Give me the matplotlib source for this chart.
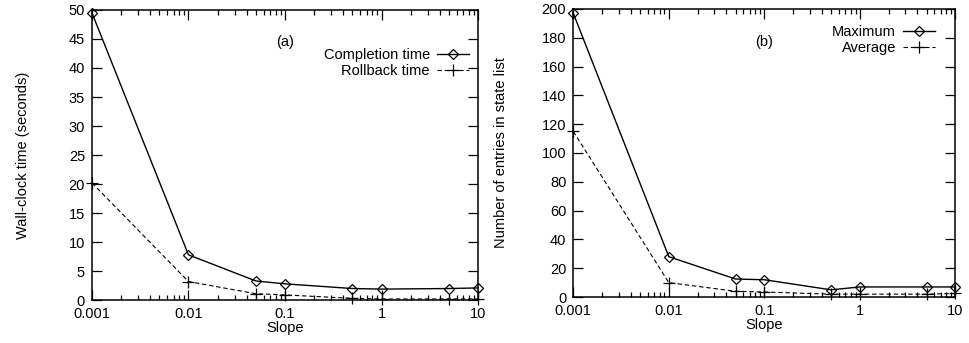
import matplotlib.pyplot as plt
from matplotlib.ticker import LogLocator, NullFormatter, FixedLocator

plt.rcParams['font.family'] = ['Liberation Sans', 'DejaVu Sans']

slope = [0.001, 0.01, 0.05, 0.1, 0.5, 1, 5, 10]
slope_labels = ['0.001', '0.01', '0.1', '1', '10']

completion_time = [49.5, 7.8, 3.3, 2.8, 2.0, 1.9, 2.0, 2.1]
rollback_time = [20.2, 3.2, 1.1, 0.9, 0.3, 0.2, 0.2, 0.2]

max_entries = [197, 28, 12.5, 12, 5, 7, 7, 7]
avg_entries = [115, 10, 4, 3.5, 2, 2, 2, 2.5]

FS = 10.5


def style_axis(ax, yticks):
    ax.set_xscale('log')
    ax.set_xlim(0.001, 10)
    ax.xaxis.set_major_locator(FixedLocator([0.001, 0.01, 0.1, 1, 10]))
    ax.set_xticklabels(slope_labels)
    ax.xaxis.set_minor_locator(LogLocator(base=10, subs=range(2, 10)))
    ax.xaxis.set_minor_formatter(NullFormatter())
    ax.set_yticks(yticks)
    ax.set_ylim(yticks[0], yticks[-1])
    ax.tick_params(which='both', direction='in', top=True, right=True,
                   labelsize=FS, width=0.9, pad=5)
    ax.tick_params(which='major', length=7)
    ax.tick_params(which='minor', length=3.5)
    ax.set_xlabel('Slope', fontsize=FS, labelpad=0)
    for s in ax.spines.values():
        s.set_linewidth(1.1)


fig = plt.figure(figsize=(9.7, 3.43), dpi=100)
ax1 = fig.add_axes([0.0948, 0.125, 0.398, 0.846])
ax2 = fig.add_axes([0.591, 0.134, 0.394, 0.840])

ax1.plot(slope, completion_time, 'k-', marker='D', fillstyle='none',
         markersize=5, markeredgewidth=0.9, linewidth=1.0, label='Completion time',
         clip_on=False)
ax1.plot(slope, rollback_time, 'k--', marker='+', markersize=8,
         markeredgewidth=0.9, linewidth=0.8, dashes=(4, 2.5), label='Rollback time',
         clip_on=False)
style_axis(ax1, list(range(0, 51, 5)))
ax1.set_ylabel('Wall-clock time (seconds)', fontsize=FS, labelpad=28)
ax1.text(0.1, 44.5, '(a)', fontsize=FS, ha='center', va='center')
ax1.legend(loc='upper right', bbox_to_anchor=(1.0, 0.90), frameon=False,
           markerfirst=False, fontsize=FS, handlelength=2.2, handletextpad=0.5,
           labelspacing=0.15, borderaxespad=0.2)

ax2.plot(slope, max_entries, 'k-', marker='D', fillstyle='none',
         markersize=5, markeredgewidth=0.9, linewidth=1.0, label='Maximum',
         clip_on=False)
ax2.plot(slope, avg_entries, 'k--', marker='+', markersize=8,
         markeredgewidth=0.9, linewidth=0.8, dashes=(4, 2.5), label='Average',
         clip_on=False)
style_axis(ax2, list(range(0, 201, 20)))
ax2.set_ylabel('Number of entries in state list', fontsize=FS, labelpad=24)
ax2.text(0.1, 177, '(b)', fontsize=FS, ha='center', va='center')
ax2.legend(loc='upper right', bbox_to_anchor=(0.97, 0.975), frameon=False,
           markerfirst=False, fontsize=FS, handlelength=2.2, handletextpad=0.5,
           labelspacing=0.15, borderaxespad=0.2)

fig.savefig('out.png', dpi=100)
